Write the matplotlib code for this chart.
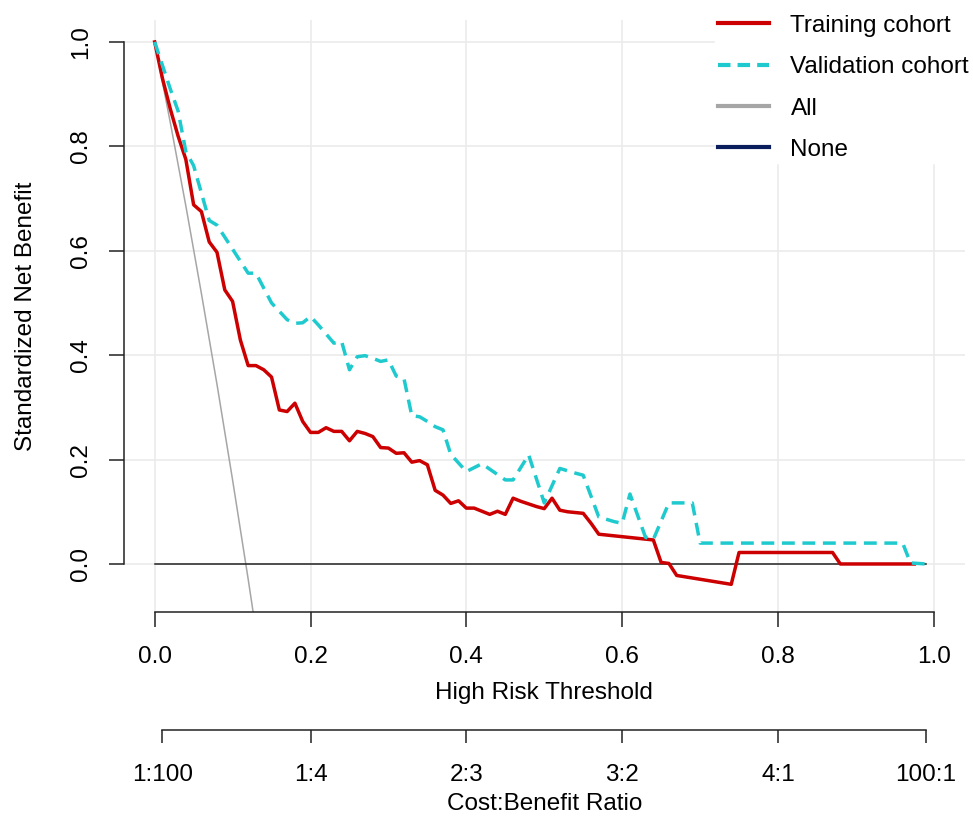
import matplotlib
matplotlib.use('Agg')
import matplotlib.pyplot as plt
from matplotlib.lines import Line2D

plt.rcParams['font.family'] = ['Liberation Sans', 'DejaVu Sans']
plt.rcParams['font.size'] = 17.5

# decision curve values
train_x = [0.00, 0.01, 0.02, 0.03, 0.04, 0.05, 0.06, 0.07, 0.08, 0.09,
           0.10, 0.11, 0.12, 0.13, 0.14, 0.15, 0.16, 0.17, 0.18, 0.19,
           0.20, 0.21, 0.22, 0.23, 0.24, 0.25, 0.26, 0.27, 0.28, 0.29,
           0.30, 0.31, 0.32, 0.33, 0.34, 0.35, 0.36, 0.37, 0.38, 0.39,
           0.40, 0.41, 0.42, 0.43, 0.44, 0.45, 0.46, 0.47, 0.48, 0.49,
           0.50, 0.51, 0.52, 0.53, 0.55, 0.56, 0.57, 0.64, 0.65, 0.66,
           0.67, 0.74, 0.75, 0.87, 0.88, 0.975]
train_y = [1.000, 0.930, 0.872, 0.820, 0.775, 0.688, 0.675, 0.617, 0.597, 0.525,
           0.503, 0.429, 0.380, 0.380, 0.372, 0.358, 0.295, 0.292, 0.308, 0.273,
           0.252, 0.252, 0.261, 0.254, 0.254, 0.236, 0.254, 0.250, 0.244, 0.223,
           0.222, 0.212, 0.213, 0.195, 0.198, 0.190, 0.141, 0.132, 0.116, 0.121,
           0.107, 0.107, 0.101, 0.095, 0.101, 0.095, 0.126, 0.120, 0.115, 0.110,
           0.106, 0.126, 0.103, 0.100, 0.097, 0.078, 0.057, 0.046, 0.003, 0.001,
           -0.022, -0.039, 0.022, 0.022, 0.000, 0.000]

valid_x = [0.00, 0.01, 0.02, 0.03, 0.04, 0.05, 0.07, 0.08, 0.12, 0.13,
           0.15, 0.17, 0.18, 0.19, 0.20, 0.21, 0.23, 0.24, 0.25, 0.26,
           0.27, 0.28, 0.29, 0.30, 0.31, 0.32, 0.33, 0.34, 0.35, 0.36,
           0.37, 0.38, 0.40, 0.42, 0.45, 0.46, 0.48, 0.50, 0.52, 0.54,
           0.55, 0.57, 0.59, 0.60, 0.61, 0.63, 0.64, 0.66, 0.69, 0.70,
           0.96, 0.97, 0.99]
valid_y = [1.000, 0.955, 0.910, 0.868, 0.790, 0.763, 0.658, 0.649, 0.557, 0.557,
           0.500, 0.468, 0.461, 0.462, 0.474, 0.458, 0.423, 0.426, 0.372, 0.397,
           0.399, 0.394, 0.388, 0.391, 0.360, 0.355, 0.284, 0.282, 0.273, 0.263,
           0.257, 0.210, 0.177, 0.192, 0.161, 0.161, 0.209, 0.117, 0.183, 0.174,
           0.170, 0.090, 0.081, 0.078, 0.134, 0.051, 0.047, 0.117, 0.117, 0.040,
           0.040, 0.002, 0.000]

all_x = [0.00, 0.02, 0.04, 0.06, 0.08, 0.10, 0.12, 0.13]
all_y = [1.000, 0.846, 0.686, 0.518, 0.344, 0.161, -0.029, -0.128]

none_x = [0.00, 0.99]
none_y = [0.00, 0.00]

x_ticks = [0.0, 0.2, 0.4, 0.6, 0.8, 1.0]
y_ticks = [0.0, 0.2, 0.4, 0.6, 0.8, 1.0]
cb_ticks = [0.0099, 0.2, 0.4, 0.6, 0.8, 0.990]
cb_labels = ['1:100', '1:4', '2:3', '3:2', '4:1', '100:1']

W, H = 973, 817
fig = plt.figure(figsize=(W / 100, H / 100), dpi=100)

left = 123.5 / W
width = (965 - 123.5) / W
ax = fig.add_axes([left, 1 - 612 / H, width, (612 - 20) / H])
ax.set_xlim(-0.04, 1.04)
ax.set_ylim(-0.092, 1.042)

ax.grid(True, color='#EBEBEB', lw=1.2)
ax.set_axisbelow(True)

ax.plot(all_x, all_y, color='#A6A6A6', lw=1.1, zorder=2)
ax.plot(none_x, none_y, color='#222222', lw=1.1, zorder=2)
ax.plot(train_x, train_y, color='#CC0000', lw=2.5, zorder=3)
ax.plot(valid_x, valid_y, color='#1FCACE', lw=2.5, dashes=(3.7, 2.2), zorder=4)

for s in ['top', 'right']:
    ax.spines[s].set_visible(False)
ax.spines['left'].set_bounds(0, 1)
ax.spines['bottom'].set_bounds(0, 1)
for s in ['left', 'bottom']:
    ax.spines[s].set_linewidth(1.1)
    ax.spines[s].set_color('#222222')

ax.set_xticks(x_ticks)
ax.set_xticklabels(['%.1f' % v for v in x_ticks])
ax.set_yticks(y_ticks)
ax.set_yticklabels(['%.1f' % v for v in y_ticks], rotation=90, va='center')
ax.tick_params(axis='x', length=10.5, width=1.1, pad=14, color='#222222')
ax.tick_params(axis='y', length=10.5, width=1.1, pad=12, color='#222222')
ax.set_xlabel('High Risk Threshold', labelpad=10)
ax.set_ylabel('Standardized Net Benefit', labelpad=24)

# cost:benefit axis underneath
ax2 = fig.add_axes([left, 1 - 730 / H, width, 0.001])
ax2.set_xlim(-0.04, 1.04)
ax2.patch.set_visible(False)
for s in ['top', 'right', 'left']:
    ax2.spines[s].set_visible(False)
ax2.spines['bottom'].set_bounds(cb_ticks[0], cb_ticks[-1])
ax2.spines['bottom'].set_linewidth(1.1)
ax2.spines['bottom'].set_color('#222222')
ax2.set_yticks([])
ax2.set_xticks(cb_ticks)
ax2.set_xticklabels(cb_labels)
ax2.tick_params(axis='x', length=9.5, width=1.1, pad=15, color='#222222')
ax2.set_xlabel('Cost:Benefit Ratio', labelpad=5)

handles = [
    Line2D([], [], color='#CC0000', lw=3),
    Line2D([], [], color='#1FCACE', lw=3, dashes=(3, 1.7)),
    Line2D([], [], color='#A6A6A6', lw=3),
    Line2D([], [], color='#0A1E5E', lw=3),
]
labels = ['Training cohort', 'Validation cohort', 'All', 'None']
leg = fig.legend(handles, labels, loc='upper left',
                 bbox_to_anchor=(703 / W, 1.0), borderpad=0.1,
                 handlelength=2.1, handletextpad=0.9, labelspacing=0.8,
                 frameon=True, fancybox=False, framealpha=1,
                 facecolor='white', edgecolor='white')

fig.savefig('out.png', dpi=100)
